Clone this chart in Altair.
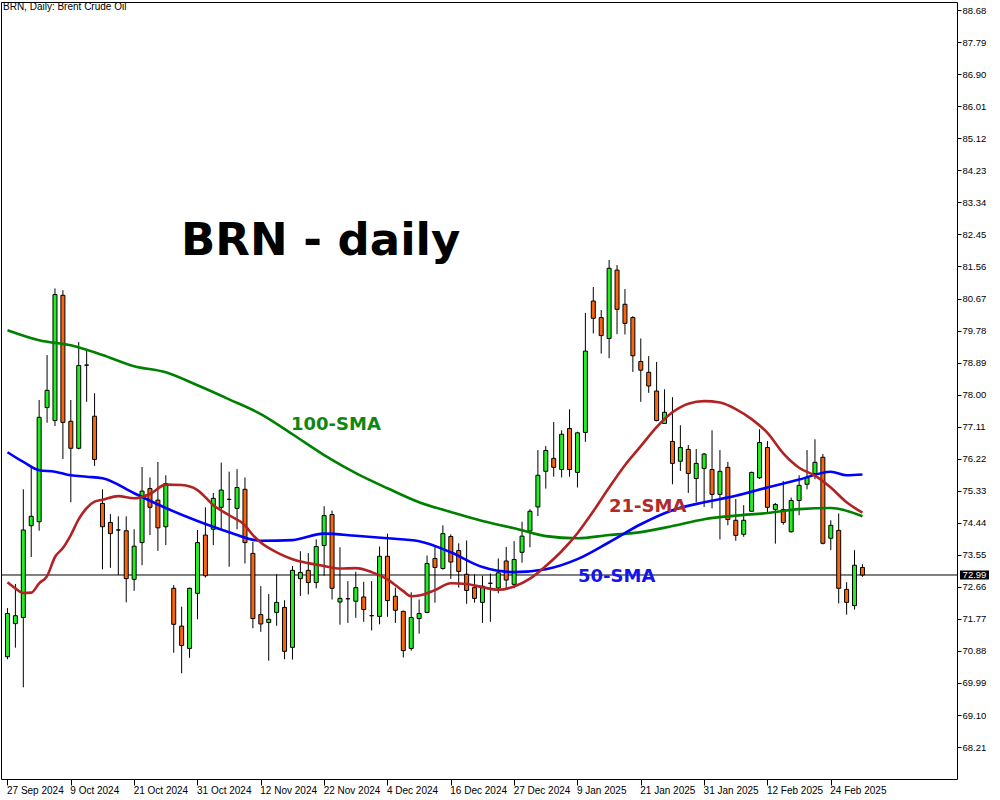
import altair as alt
import pandas as pd

# Brent crude (BRN) daily candles, 27 Sep 2024 - 28 Feb 2025, one entry per trading day
opens = [70.72, 71.64, 71.81, 74.36, 74.47, 77.64, 77.28, 80.76, 77.26, 76.51,
         78.82, 77.40, 74.98, 74.45, 74.24, 74.22, 72.87, 73.89, 75.39, 75.07,
         74.33, 72.62, 71.57, 70.95, 72.48, 74.10, 74.26, 74.87, 75.09, 74.84,
         75.37, 73.59, 71.89, 71.67, 71.95, 72.09, 70.98, 72.89, 73.12, 72.78,
         73.81, 74.67, 72.24, 72.33, 72.26, 72.38, 71.86, 71.84, 73.51, 72.40,
         71.98, 70.95, 71.78, 71.95, 73.45, 73.17, 74.06, 73.67, 73.01, 72.64,
         72.23, 72.76, 72.63, 73.38, 72.73, 73.62, 74.21, 74.88, 75.87, 76.23,
         75.92, 77.06, 75.84, 76.95, 80.60, 80.14, 79.56, 81.46, 80.51, 80.14,
         78.92, 78.62, 78.10, 77.20, 76.70, 76.15, 76.48, 75.67, 75.95, 75.92,
         75.23, 75.98, 74.51, 74.12, 74.76, 75.69, 76.53, 74.81, 74.81, 74.19,
         75.06, 75.51, 75.81, 76.26, 74.01, 74.23, 72.59, 72.14, 73.20]
highs = [72.07, 72.74, 75.37, 76.02, 77.85, 79.10, 80.95, 80.90, 77.85, 79.46,
         79.24, 78.04, 75.37, 74.68, 74.62, 74.62, 74.26, 75.99, 75.70, 76.13,
         75.76, 72.71, 72.11, 72.64, 74.24, 74.87, 75.27, 76.11, 75.86, 75.93,
         75.70, 73.91, 72.68, 72.46, 73.01, 72.29, 73.24, 73.65, 73.60, 73.98,
         74.90, 74.78, 73.76, 72.82, 73.08, 72.80, 72.82, 73.78, 74.14, 72.64,
         72.00, 72.51, 72.31, 73.53, 73.77, 74.37, 74.12, 73.87, 73.95, 73.01,
         72.97, 73.03, 73.45, 73.77, 73.93, 74.47, 74.82, 76.46, 76.57, 77.24,
         77.01, 77.59, 76.97, 80.27, 80.99, 80.35, 81.74, 81.60, 80.93, 80.18,
         79.56, 79.07, 78.91, 78.15, 77.93, 77.15, 76.60, 76.49, 76.38, 77.01,
         76.46, 76.13, 75.10, 74.93, 75.86, 77.04, 76.71, 74.99, 75.60, 75.14,
         75.76, 76.46, 76.76, 76.35, 74.51, 74.70, 72.79, 73.68, 73.29]
lows = [70.65, 70.97, 69.87, 73.49, 74.22, 77.22, 77.13, 76.21, 75.01, 76.48,
        77.80, 76.02, 73.15, 73.19, 72.99, 72.23, 72.55, 73.26, 74.10, 73.66,
        73.82, 70.83, 70.26, 70.69, 71.76, 72.92, 73.82, 74.26, 73.22, 74.26,
        73.31, 71.51, 71.41, 70.61, 71.58, 70.65, 70.64, 72.41, 72.45, 72.62,
        72.97, 72.31, 71.61, 71.66, 71.80, 71.69, 71.45, 71.62, 71.83, 71.66,
        70.70, 70.89, 71.36, 71.93, 72.22, 73.14, 72.88, 72.64, 72.19, 72.22,
        71.66, 71.69, 72.48, 72.59, 72.62, 73.33, 73.76, 74.63, 75.39, 75.72,
        75.70, 75.72, 75.42, 76.69, 79.70, 79.14, 79.01, 79.68, 79.67, 78.63,
        77.80, 78.05, 77.26, 77.19, 75.51, 75.88, 75.27, 75.01, 74.88, 74.84,
        73.98, 74.37, 73.94, 74.05, 74.74, 75.66, 74.74, 73.86, 74.39, 74.17,
        74.65, 75.37, 75.65, 73.84, 73.68, 72.20, 71.89, 72.03, 72.94]
closes = [71.92, 71.86, 74.24, 74.62, 77.37, 78.12, 80.78, 77.23, 76.51, 78.81,
          78.82, 76.20, 74.33, 74.14, 74.24, 72.89, 73.79, 75.32, 74.87, 74.30,
          75.53, 71.62, 71.03, 72.62, 73.89, 72.97, 75.12, 75.35, 75.09, 75.42,
          73.89, 71.78, 71.63, 71.76, 72.23, 70.87, 73.12, 73.06, 72.78, 73.78,
          74.64, 72.62, 72.34, 72.33, 72.64, 72.03, 71.86, 73.51, 72.28, 72.01,
          70.89, 71.81, 71.92, 73.31, 73.20, 74.14, 73.35, 73.09, 72.56, 72.34,
          72.68, 72.76, 73.05, 72.85, 73.42, 74.07, 74.76, 75.76, 76.45, 75.98,
          76.90, 75.92, 76.94, 79.21, 80.12, 79.64, 81.51, 80.37, 79.98, 79.08,
          78.68, 78.24, 77.28, 77.51, 76.09, 76.53, 75.81, 76.09, 76.35, 75.23,
          75.87, 74.53, 74.09, 74.51, 75.84, 76.67, 74.87, 74.95, 74.45, 75.06,
          75.48, 75.69, 76.12, 73.87, 74.37, 72.62, 72.23, 73.26, 72.99]

# Moving averages, sampled at bar indices
sma100_idx = [0, 4, 8, 12, 16, 20, 24, 28, 32, 36, 40, 44, 48, 52, 56, 60, 64,
              68, 72, 76, 80, 84, 88, 92, 96, 100, 104, 108]
sma100 = [79.79, 79.51, 79.37, 79.10, 78.79, 78.62, 78.26, 77.87, 77.46, 76.90,
          76.32, 75.82, 75.40, 75.01, 74.74, 74.49, 74.29, 74.07, 74.01, 74.10,
          74.18, 74.35, 74.54, 74.64, 74.71, 74.82, 74.85, 74.62]
sma50_idx = [0, 2, 4, 6, 8, 10, 12, 16, 20, 24, 28, 32, 36, 40, 44, 48, 52, 56,
             60, 64, 68, 72, 76, 80, 84, 88, 92, 96, 100, 104, 106, 108]
sma50 = [76.40, 76.13, 75.90, 75.86, 75.76, 75.72, 75.68, 75.26, 74.85, 74.49,
         74.18, 73.94, 73.96, 74.14, 74.08, 74.01, 73.93, 73.62, 73.21, 73.07,
         73.15, 73.43, 73.90, 74.40, 74.79, 75.01, 75.19, 75.42, 75.64, 75.86,
         75.76, 75.78]
sma21_idx = [0, 1, 2, 3, 4, 5, 6, 7, 8, 9, 10, 11, 12, 14, 16, 18, 20, 22, 24,
             26, 28, 30, 31, 32, 34, 36, 38, 40, 42, 44, 46, 48, 50, 51, 52, 54,
             56, 58, 60, 62, 64, 66, 68, 70, 72, 74, 76, 78, 80, 82, 84, 86, 88,
             90, 92, 94, 96, 98, 100, 102, 104, 106, 108]
sma21 = [72.79, 72.62, 72.49, 72.50, 72.76, 72.96, 73.49, 73.74, 74.10, 74.54,
         74.85, 75.03, 75.08, 75.18, 75.12, 75.24, 75.50, 75.49, 75.35, 74.93,
         74.65, 74.37, 74.10, 73.89, 73.62, 73.43, 73.32, 73.24, 73.17, 73.18,
         73.07, 72.87, 72.54, 72.40, 72.42, 72.57, 72.76, 72.74, 72.65, 72.58,
         72.67, 72.89, 73.24, 73.65, 74.15, 74.76, 75.42, 76.04, 76.57, 77.10,
         77.51, 77.75, 77.82, 77.78, 77.60, 77.32, 76.94, 76.37, 75.97, 75.75,
         75.42, 75.01, 74.72]

# Axis labels
date_ticks = [0, 8, 16, 24, 32, 40, 48, 56, 64, 72, 80, 88, 96, 104]
date_labels = ["27 Sep 2024", "9 Oct 2024", "21 Oct 2024", "31 Oct 2024",
               "12 Nov 2024", "22 Nov 2024", "4 Dec 2024", "16 Dec 2024",
               "27 Dec 2024", "9 Jan 2025", "21 Jan 2025", "31 Jan 2025",
               "12 Feb 2025", "24 Feb 2025"]
price_ticks = [88.68, 87.79, 86.90, 86.01, 85.12, 84.23, 83.34, 82.45, 81.56,
               80.67, 79.78, 78.89, 78.00, 77.11, 76.22, 75.33, 74.44, 73.55,
               72.66, 71.77, 70.88, 69.99, 69.10, 68.21]

BULL = "#22ee22"
BEAR = "#f8650c"
FONT = "Liberation Sans"

W, H = 956, 777
candles = pd.DataFrame({
    "i": list(range(len(opens))),
    "open": opens, "high": highs, "low": lows, "close": closes,
})
candles["up"] = candles["close"] >= candles["open"]

x_scale = alt.Scale(domain=[-0.1875, 119.3125], nice=False, zero=False)
y_scale = alt.Scale(domain=[67.3233, 88.9067], nice=False, zero=False)

label_expr = "[" + ",".join("'%s'" % s for s in date_labels) + "][round(datum.value / 8)]"

x_axis = alt.Axis(values=date_ticks, labelExpr=label_expr, orient="bottom",
                  tickSize=6, tickColor="black", labelAlign="left",
                  labelBaseline="top", labelPadding=0, labelOffset=-1,
                  labelFont=FONT, labelFontSize=10, labelColor="black",
                  domain=False, grid=False, labelOverlap=False,
                  labelFlush=False, labelBound=False, title=None)
y_axis = alt.Axis(values=price_ticks, format=".2f", orient="right", tickSize=4,
                  tickColor="black", labelPadding=1, labelFont=FONT,
                  labelFontSize=9.5, labelColor="black", domain=False, grid=False,
                  labelOverlap=False, labelBound=False, title=None)


def X(field):
    return alt.X(field, scale=x_scale, axis=x_axis)


def Y(field):
    return alt.Y(field, scale=y_scale, axis=y_axis)


base = alt.Chart(candles)

wicks = base.mark_rule(color="black", strokeWidth=1).encode(
    x=X("i:Q"), y=Y("low:Q"), y2="high:Q",
)

bodies = base.mark_bar(size=4, stroke="black", strokeWidth=1).encode(
    x=X("i:Q"), y=Y("open:Q"), y2="close:Q",
    color=alt.condition("datum.up", alt.value(BULL), alt.value(BEAR)),
)

last = candles.tail(1)
price_line = alt.Chart(last).mark_rule(color="black", strokeWidth=1).encode(
    y=Y("close:Q"),
)


def sma_line(idx, vals, color, width):
    df = pd.DataFrame({"i": idx, "v": vals})
    return alt.Chart(df).mark_line(color=color, strokeWidth=width,
                                   interpolate="monotone").encode(
        x=X("i:Q"), y=Y("v:Q"),
    )


l100 = sma_line(sma100_idx, sma100, "#008000", 2.6)
l50 = sma_line(sma50_idx, sma50, "#0000ff", 2.6)
l21 = sma_line(sma21_idx, sma21, "#b22222", 2.6)

one = pd.DataFrame({"k": [0]})


def label(text, x, y, size, color, font, weight="normal"):
    return alt.Chart(one).mark_text(
        text=text, align="left", baseline="alphabetic", fontSize=size,
        font=font, fontWeight=weight, color=color,
    ).encode(x=alt.value(x), y=alt.value(y))


header = label("BRN, Daily:  Brent Crude Oil", 2, 8, 10, "black", FONT)
big = label("BRN - daily", 180, 252.5, 45, "black", "DejaVu Sans", "bold")
t100 = label("100-SMA", 290, 428, 18, "#0f870f", "DejaVu Sans", "bold")
t21 = label("21-SMA", 608, 510, 18, "#b02a2a", "DejaVu Sans", "bold")
t50 = label("50-SMA", 577, 580, 18, "#1414ee", "DejaVu Sans", "bold")

# Last price tag on the price scale
tag_box = alt.Chart(last).mark_rect(color="black").transform_calculate(
    top="datum.close + 0.125", bot="datum.close - 0.125"
).encode(
    x=alt.value(959), x2=alt.value(988),
    y=Y("top:Q"), y2="bot:Q",
)
tag_text = alt.Chart(last).mark_text(
    align="center", baseline="middle", font=FONT, fontSize=9.5, color="white"
).encode(
    x=alt.value(973.5),
    y=Y("close:Q"),
    text=alt.Text("close:Q", format=".2f"),
)

chart = alt.layer(
    price_line, wicks, bodies, l100, l50, l21,
    header, big, t100, t21, t50, tag_box, tag_text,
).properties(
    width=W, height=H,
    autosize=alt.AutoSizeParams(type="none"),
    padding={"left": 1, "top": 2, "right": 43, "bottom": 21},
    background="white",
).configure_view(
    stroke="black", strokeWidth=1,
)

chart.save("out.html", embed_options={"renderer": "svg", "actions": False})
